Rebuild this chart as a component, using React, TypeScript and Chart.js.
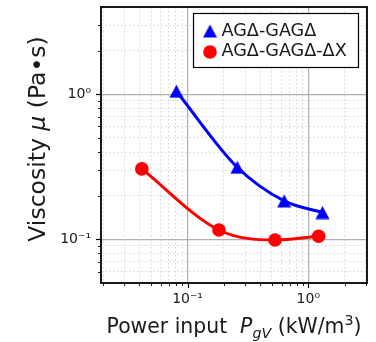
import { useEffect, useRef } from "react";
import { Chart, registerables } from "chart.js";

Chart.register(...registerables);

// ---- data ----
const SERIES_NAMES = ["AGΔ-GAGΔ", "AGΔ-GAGΔ-ΔX"];
const BLUE_X = [0.0808, 0.258, 0.631, 1.31];
const BLUE_Y = [1.05, 0.314, 0.184, 0.153];
const RED_X = [0.0418, 0.182, 0.53, 1.217];
const RED_Y = [0.306, 0.116, 0.099, 0.105];

const X_MIN = 0.0192;
const X_MAX = 3.06;
const Y_MIN = 0.05;
const Y_MAX = 4.0;

const X_MAJOR_TICKS = [0.1, 1];
const X_MAJOR_LABELS = ["10⁻¹", "10⁰"];
const X_MINOR_TICKS = [0.02, 0.03, 0.04, 0.05, 0.06, 0.07, 0.08, 0.09, 0.2, 0.3, 0.4, 0.5, 0.6, 0.7, 0.8, 0.9, 2, 3];
const Y_MAJOR_TICKS = [0.1, 1];
const Y_MAJOR_LABELS = ["10⁻¹", "10⁰"];
const Y_MINOR_TICKS = [0.06, 0.07, 0.08, 0.09, 0.2, 0.3, 0.4, 0.5, 0.6, 0.7, 0.8, 0.9, 2, 3];

const X_TITLE = ["Power input  ", "P", "gV", " (kW/m", "3", ")"];
const Y_TITLE = ["Viscosity ", "μ", " (Pa•s)"];

const FONT = "'DejaVu Sans', sans-serif";
const TEXT = "#1a1a1a";

const isMajor = (v: number, majors: number[]) => majors.some((m) => Math.abs(m - v) < 1e-9);
const labelFor = (v: number, majors: number[], labels: string[]) => {
  const i = majors.findIndex((m) => Math.abs(m - v) < 1e-9);
  return i >= 0 ? labels[i] : "";
};

function makeTriangle(color: string) {
  const c = document.createElement("canvas");
  c.width = 15;
  c.height = 14;
  const g = c.getContext("2d")!;
  g.fillStyle = color;
  g.beginPath();
  g.moveTo(0.5, 13.5);
  g.lineTo(14.5, 13.5);
  g.lineTo(7.5, 0.5);
  g.closePath();
  g.fill();
  return c;
}

export default function App() {
  const ref = useRef<HTMLCanvasElement | null>(null);

  useEffect(() => {
    if (!ref.current) return;
    const tri = makeTriangle("#0000ff");
    const allX = [...X_MINOR_TICKS, ...X_MAJOR_TICKS].sort((a, b) => a - b);
    const allY = [...Y_MINOR_TICKS, ...Y_MAJOR_TICKS].sort((a, b) => a - b);

    const decor = {
      id: "decor",
      afterDraw(chart: any) {
        const { ctx, chartArea: a } = chart;
        const xs = chart.scales.x;
        const ys = chart.scales.y;
        ctx.save();
        // frame
        ctx.strokeStyle = "#000";
        ctx.lineWidth = 1.8;
        ctx.strokeRect(a.left, a.top, a.right - a.left, a.bottom - a.top);
        // tick marks
        for (const v of allX) {
          const px = Math.round(xs.getPixelForValue(v)) + 0.5;
          const len = isMajor(v, X_MAJOR_TICKS) ? 5 : 3;
          ctx.lineWidth = isMajor(v, X_MAJOR_TICKS) ? 1.2 : 0.9;
          ctx.beginPath();
          ctx.moveTo(px, a.bottom);
          ctx.lineTo(px, a.bottom + len);
          ctx.stroke();
        }
        for (const v of allY) {
          const py = Math.round(ys.getPixelForValue(v)) + 0.5;
          const len = isMajor(v, Y_MAJOR_TICKS) ? 5 : 3;
          ctx.lineWidth = isMajor(v, Y_MAJOR_TICKS) ? 1.2 : 0.9;
          ctx.beginPath();
          ctx.moveTo(a.left, py);
          ctx.lineTo(a.left - len, py);
          ctx.stroke();
        }

        // x title
        const bx = 20.4;
        const sx = 14.3;
        const segsX = [
          { t: X_TITLE[0], f: `${bx}px ${FONT}`, dy: 0 },
          { t: X_TITLE[1], f: `italic ${bx}px ${FONT}`, dy: 0 },
          { t: X_TITLE[2], f: `italic ${sx}px ${FONT}`, dy: 4.5 },
          { t: X_TITLE[3], f: `${bx}px ${FONT}`, dy: 0 },
          { t: X_TITLE[4], f: `${sx}px ${FONT}`, dy: -8 },
          { t: X_TITLE[5], f: `${bx}px ${FONT}`, dy: 0 },
        ];
        ctx.fillStyle = TEXT;
        ctx.textBaseline = "alphabetic";
        ctx.textAlign = "left";
        let w = 0;
        for (const s of segsX) {
          ctx.font = s.f;
          w += ctx.measureText(s.t).width;
        }
        let cx = (a.left + a.right) / 2 - w / 2;
        for (const s of segsX) {
          ctx.font = s.f;
          ctx.fillText(s.t, cx, 333 + s.dy);
          cx += ctx.measureText(s.t).width;
        }

        // y title
        const by = 23.5;
        const segsY = [
          { t: Y_TITLE[0], f: `${by}px ${FONT}` },
          { t: Y_TITLE[1], f: `italic ${by}px ${FONT}` },
          { t: Y_TITLE[2], f: `${by}px ${FONT}` },
        ];
        ctx.save();
        ctx.translate(45, 139);
        ctx.rotate(-Math.PI / 2);
        w = 0;
        for (const s of segsY) {
          ctx.font = s.f;
          w += ctx.measureText(s.t).width;
        }
        let cy = -w / 2;
        for (const s of segsY) {
          ctx.font = s.f;
          ctx.fillText(s.t, cy, 0);
          cy += ctx.measureText(s.t).width;
        }
        ctx.restore();

        // legend
        const lx = 193, ly = 13, lw = 165, lh = 54;
        ctx.fillStyle = "#fff";
        ctx.fillRect(lx, ly, lw, lh);
        ctx.strokeStyle = "#000";
        ctx.lineWidth = 1.2;
        ctx.strokeRect(lx + 0.5, ly + 0.5, lw, lh);
        ctx.drawImage(tri, 210 - tri.width / 2, 31 - tri.height / 2);
        ctx.fillStyle = "#ff0000";
        ctx.beginPath();
        ctx.arc(210, 52, 6.8, 0, Math.PI * 2);
        ctx.fill();
        ctx.fillStyle = TEXT;
        ctx.font = `17.6px ${FONT}`;
        ctx.fillText(SERIES_NAMES[0], 221.5, 36);
        ctx.fillText(SERIES_NAMES[1], 221.5, 55.5);
        ctx.restore();
      },
    };

    const chart = new Chart(ref.current, {
      type: "scatter",
      data: {
        datasets: [
          {
            label: SERIES_NAMES[0],
            data: BLUE_X.map((x, i) => ({ x, y: BLUE_Y[i] })),
            borderColor: "#0000ff",
            backgroundColor: "#0000ff",
            borderWidth: 3,
            showLine: true,
            cubicInterpolationMode: "monotone",
            pointStyle: tri as any,
            pointRadius: 7,
            pointHoverRadius: 7,
            pointBorderWidth: 0,
          },
          {
            label: SERIES_NAMES[1],
            data: RED_X.map((x, i) => ({ x, y: RED_Y[i] })),
            borderColor: "#ff0000",
            backgroundColor: "#ff0000",
            borderWidth: 3,
            showLine: true,
            cubicInterpolationMode: "monotone",
            pointStyle: "circle",
            pointRadius: 6.8,
            pointHoverRadius: 6.8,
            pointBorderWidth: 0,
          },
        ],
      },
      options: {
        animation: false,
        responsive: false,
        layout: { padding: { left: 0, right: 9, top: 5, bottom: 0 } },
        plugins: { legend: { display: false }, tooltip: { enabled: false } },
        scales: {
          x: {
            type: "logarithmic",
            min: X_MIN,
            max: X_MAX,
            afterBuildTicks: (s: any) => {
              s.ticks = allX.map((v) => ({ value: v }));
            },
            afterFit: (s: any) => {
              s.height = 59;
              s.paddingLeft = 0;
              s.paddingRight = 0;
            },
            grid: {
              drawTicks: false,
              color: (c: any) => (c.tick && isMajor(c.tick.value, X_MAJOR_TICKS) ? "#b0b0b0" : "#d2d2d2"),
              lineWidth: (c: any) => (c.tick && isMajor(c.tick.value, X_MAJOR_TICKS) ? 1.2 : 0.9),
            },
            border: {
              display: false,
              dash: (c: any) => (c.tick && isMajor(c.tick.value, X_MAJOR_TICKS) ? [] : [1.5, 2.5]),
            },
            ticks: {
              autoSkip: false,
              maxRotation: 0,
              padding: 8,
              color: TEXT,
              font: { family: FONT, size: 14 },
              callback: (v: any) => labelFor(Number(v), X_MAJOR_TICKS, X_MAJOR_LABELS),
            },
          },
          y: {
            type: "logarithmic",
            min: Y_MIN,
            max: Y_MAX,
            afterBuildTicks: (s: any) => {
              s.ticks = allY.map((v) => ({ value: v }));
            },
            afterFit: (s: any) => {
              s.width = 101;
              s.paddingTop = 0;
              s.paddingBottom = 0;
            },
            grid: {
              drawTicks: false,
              color: (c: any) => (c.tick && isMajor(c.tick.value, Y_MAJOR_TICKS) ? "#b0b0b0" : "#d2d2d2"),
              lineWidth: (c: any) => (c.tick && isMajor(c.tick.value, Y_MAJOR_TICKS) ? 1.2 : 0.9),
            },
            border: {
              display: false,
              dash: (c: any) => (c.tick && isMajor(c.tick.value, Y_MAJOR_TICKS) ? [] : [1.5, 2.5]),
            },
            ticks: {
              autoSkip: false,
              padding: 10,
              color: TEXT,
              font: { family: FONT, size: 14 },
              callback: (v: any) => labelFor(Number(v), Y_MAJOR_TICKS, Y_MAJOR_LABELS),
            },
          },
        },
      },
      plugins: [decor],
    } as any);

    return () => chart.destroy();
  }, []);

  return (
    <div style={{ position: "fixed", left: 0, top: 0, width: 376, height: 342, background: "#fff" }}>
      <canvas ref={ref} width={376} height={342} style={{ display: "block", width: 376, height: 342 }} />
    </div>
  );
}
